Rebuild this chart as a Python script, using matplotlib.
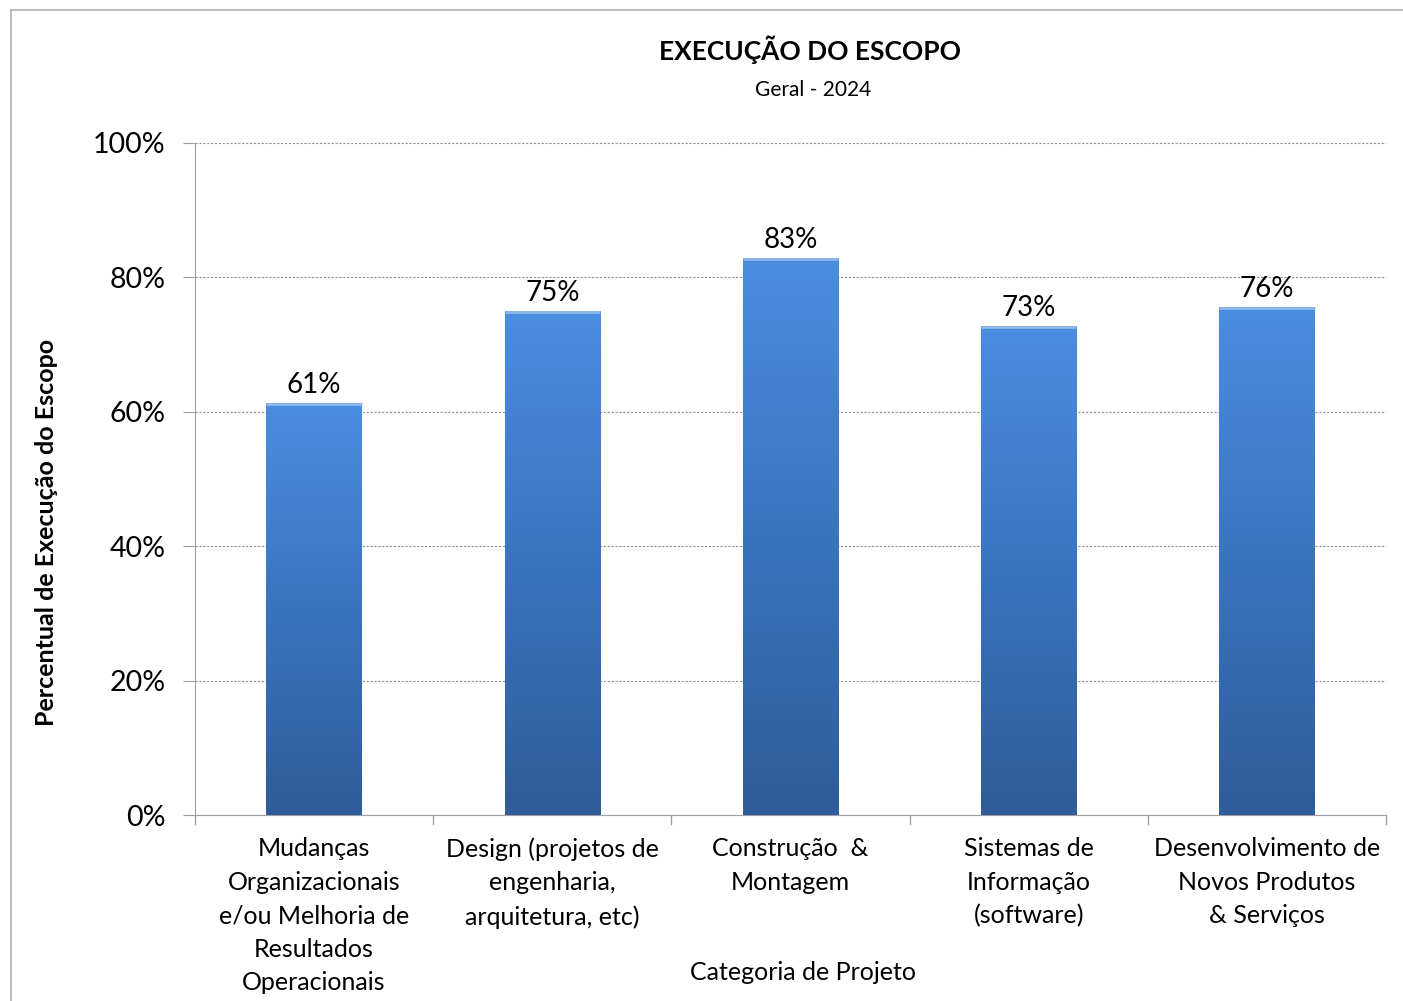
import numpy as np
import matplotlib.pyplot as plt
from matplotlib.colors import LinearSegmentedColormap

plt.rcParams['font.family'] = ['Lato', 'DejaVu Sans']

# data
categorias = ['Mudanças\nOrganizacionais\ne/ou Melhoria de\nResultados\nOperacionais',
              'Design (projetos de\nengenharia,\narquitetura, etc)',
              'Construção  &\nMontagem',
              'Sistemas de\nInformação\n(software)',
              'Desenvolvimento de\nNovos Produtos\n& Serviços']
valores = [0.613, 0.750, 0.829, 0.728, 0.756]
rotulos = ['61%', '75%', '83%', '73%', '76%']
yticks = [0, 0.2, 0.4, 0.6, 0.8, 1.0]
ytick_labels = ['0%', '20%', '40%', '60%', '80%', '100%']

fig = plt.figure(figsize=(14.03, 10.01), dpi=100)
ax = fig.add_axes([195/1403, 1 - 815/1001, (1386-195)/1403, (815-143)/1001])

x = np.arange(len(categorias))
bars = ax.bar(x, valores, width=0.4, color='#3b78c8', zorder=3)

# vertical gradient inside each bar (lighter top, darker bottom)
cmap = LinearSegmentedColormap.from_list('azul', ['#2f5c9a', '#3a74bf', '#4a8ee0'])
grad = np.linspace(0, 1, 256).reshape(-1, 1)
for b in bars:
    bx, by = b.get_x(), b.get_y()
    w, h = b.get_width(), b.get_height()
    im = ax.imshow(grad, cmap=cmap, origin='lower', aspect='auto',
                   extent=[bx, bx + w, by, by + h], zorder=4)
    im.set_clip_path(b)
    ax.plot([bx, bx + w], [h - 0.002, h - 0.002], color='#8fb8ea', lw=2, zorder=5,
            solid_capstyle='butt')

ax.set_xlim(-0.5, len(categorias) - 0.5)
ax.set_ylim(0, 1.0)
ax.set_yticks(yticks)
ax.set_yticklabels(ytick_labels, fontsize=20.5)
ax.set_xticks(x)
ax.set_xticklabels(categorias, fontsize=18, linespacing=1.55)
ax.tick_params(axis='x', length=0, pad=16)
ax.tick_params(axis='y', length=9, color='#a0a0a0', pad=12)

# ticks between categories on x axis
for xb in np.arange(-0.5, len(categorias), 1.0):
    ax.plot([xb, xb], [0, -0.014], color='#a0a0a0', lw=1, clip_on=False, zorder=2)

ax.yaxis.grid(True, linestyle=(0, (2, 1.5)), color='#909090', lw=0.8, zorder=0)
for s in ['top', 'right']:
    ax.spines[s].set_visible(False)
ax.spines['left'].set_color('#a0a0a0')
ax.spines['bottom'].set_color('#a0a0a0')

for xi, v, r in zip(x, valores, rotulos):
    ax.text(xi, v + 0.007, r, ha='center', va='bottom', fontsize=20, zorder=6)

fig.text(47/1403, 1 - 532/1001, 'Percentual de Execução do Escopo', rotation=90,
         ha='center', va='center', fontsize=18, fontweight='bold')
fig.text(803/1403, 1 - 972/1001, 'Categoria de Projeto', ha='center', va='center', fontsize=18)

fig.text(810/1403, 1 - 50/1001, 'EXECUÇÃO DO ESCOPO', ha='center', va='center',
         fontsize=19, fontweight='bold')
fig.text(813/1403, 1 - 90/1001, 'Geral - 2024', ha='center', va='center', fontsize=15)

# outer frame of the chart area
fig.add_artist(plt.Line2D([11/1403, 11/1403], [0, 1 - 10/1001], color='#b0b0b0', lw=1.2))
fig.add_artist(plt.Line2D([11/1403, 1], [1 - 10/1001, 1 - 10/1001], color='#b0b0b0', lw=1.2))

fig.savefig('out.png', dpi=100)
